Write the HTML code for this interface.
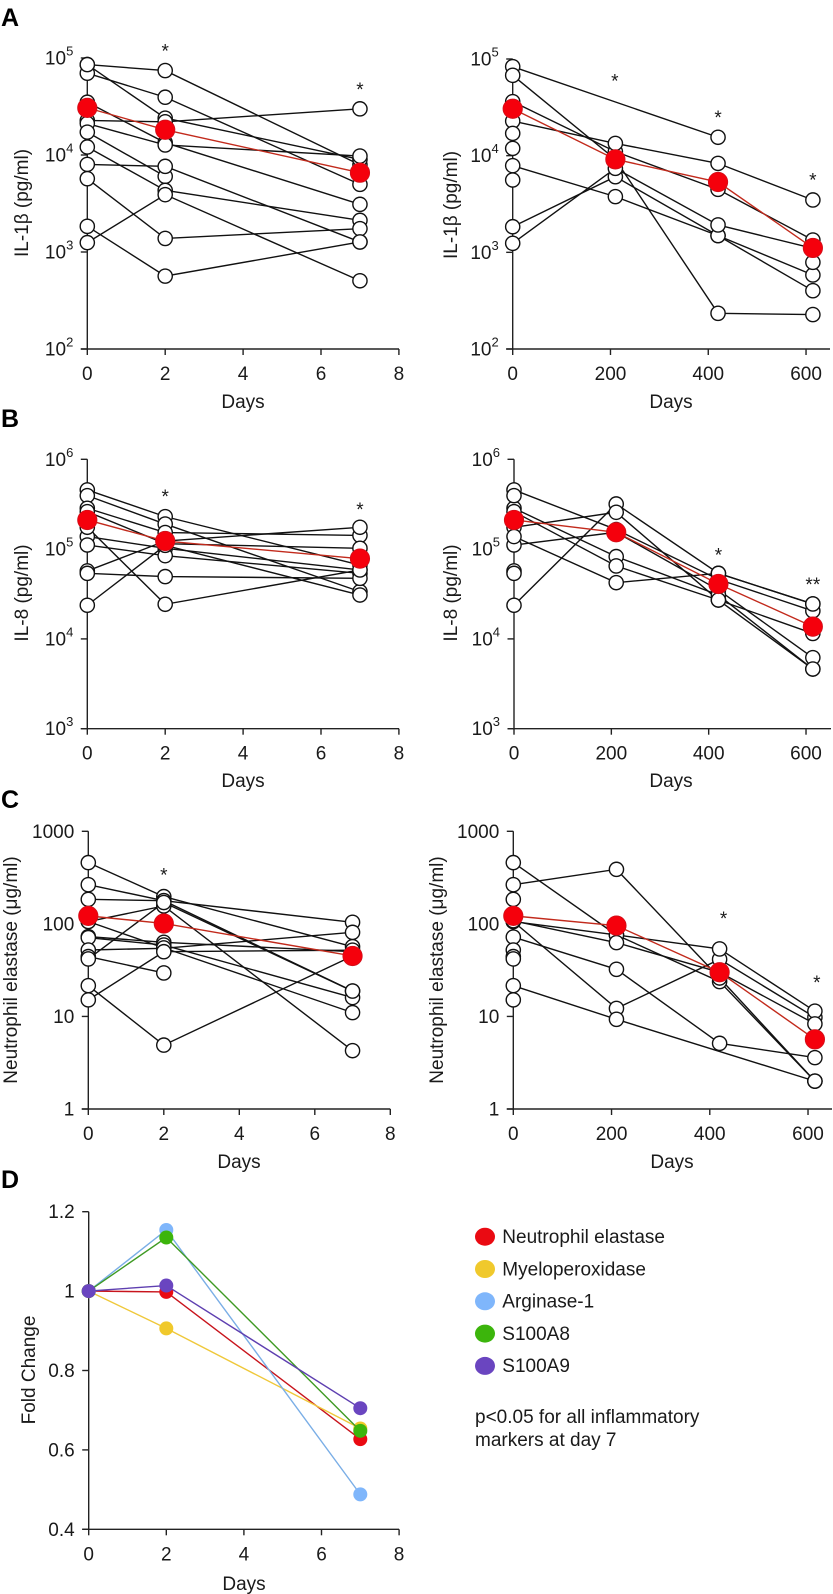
<!DOCTYPE html>
<html lang="en">
<head>
<meta charset="utf-8">
<title>Inflammatory markers over time</title>
<style>
html,body{margin:0;padding:0;background:#fff;width:833px;height:1594px;overflow:hidden}
svg{display:block}
text{font-family:"Liberation Sans",Arial,sans-serif;fill:#1a1a1a;font-size:19px}
.letter{font-weight:bold;font-size:25px;fill:#000}
</style>
</head>
<body>
<svg id="figure" width="833" height="1594" viewBox="0 0 833 1594" xmlns="http://www.w3.org/2000/svg">
<rect width="833" height="1594" fill="#fff"/>
<text class="letter" x="1" y="26">A</text>
<text class="letter" x="1" y="427">B</text>
<text class="letter" x="1" y="808">C</text>
<text class="letter" x="1" y="1188">D</text>

<text transform="translate(28,203) rotate(-90)" text-anchor="middle">IL-1β (pg/ml)</text>
<text transform="translate(457,205) rotate(-90)" text-anchor="middle">IL-1β (pg/ml)</text>
<text transform="translate(28,593) rotate(-90)" text-anchor="middle">IL-8 (pg/ml)</text>
<text transform="translate(457,593) rotate(-90)" text-anchor="middle">IL-8 (pg/ml)</text>
<text transform="translate(17,970) rotate(-90)" text-anchor="middle">Neutrophil elastase (μg/ml)</text>
<text transform="translate(443,970) rotate(-90)" text-anchor="middle">Neutrophil elastase (μg/ml)</text>
<text transform="translate(35,1370) rotate(-90)" text-anchor="middle">Fold Change</text>

<text x="243" y="408" text-anchor="middle">Days</text>
<text x="671" y="408" text-anchor="middle">Days</text>
<text x="243" y="787" text-anchor="middle">Days</text>
<text x="671" y="787" text-anchor="middle">Days</text>
<text x="239" y="1168" text-anchor="middle">Days</text>
<text x="672" y="1168" text-anchor="middle">Days</text>
<text x="244" y="1590" text-anchor="middle">Days</text>

<text x="475" y="1423">p&lt;0.05 for all inflammatory</text>
<text x="475" y="1446">markers at day 7</text>
</svg>
<script>
const earlyDays = [0, 2, 7];
const earlyTicks = [0, 2, 4, 6, 8];
const lateDays = [0, 210, 420, 614];
const lateTicks = [0, 200, 400, 600];

const il1bTicks = [100, 1000, 10000, 100000];
const il1bExponents = ["2", "3", "4", "5"];
const il8Ticks = [1000, 10000, 100000, 1000000];
const il8Exponents = ["3", "4", "5", "6"];
const elastaseTicks = [1, 10, 100, 1000];
const elastaseTickLabels = ["1", "10", "100", "1000"];

const aLeftSubjects = [
  [85500, 74200, 7900],
  [69700, 39400, 4980],
  [85500, 24000, 9000],
  [22700, 22000, 29900],
  [35000, 13400, 3100],
  [21100, 12700, 9750],
  [17200, 6020, null],
  [12100, 4320, 2120],
  [8000, 7640, 1270],
  [5700, 1380, 1740],
  [1840, 564, 1270],
  [1250, 3900, 505]
];
const aLeftMean = [30600, 18200, 6570];
const aLeftStarDays = [2, 7];
const aLeftStarValues = [128000, 51200];
const aLeftStarLabels = ["*", "*"];

const aRightSubjects = [
  [83300, null, 15500, null],
  [67800, 9160, 234, 227],
  [36200, 11000, 4480, 1340],
  [22800, 13400, 8320, 3480],
  [7880, 3770, 1490, 401],
  [1840, 6060, 1490, 583],
  [1240, 7390, 1920, 1100],
  [null, null, null, 788],
  [17000, null, null, null],
  [11900, null, null, null],
  [5600, null, null, null]
];
const aRightMean = [30600, 9160, 5340, 1110];
const aRightStarDays = [209, 420, 614];
const aRightStarValues = [64000, 27000, 6060];
const aRightStarLabels = ["*", "*", "*"];

const bLeftSubjects = [
  [456000, 230000, 66500],
  [394000, 190000, 33600],
  [285000, 153000, 142000],
  [261000, 115000, 102000],
  [138000, 102000, 58600],
  [111000, 84500, 53800],
  [57100, 123000, 175000],
  [53700, 49400, 47300],
  [175000, 24300, 58600],
  [23700, 110000, 30800]
];
const bLeftMean = [211000, 123000, 78300];
const bLeftStarDays = [2, 7];
const bLeftStarValues = [419000, 303000];
const bLeftStarLabels = ["*", "*"];

const bRightSubjects = [
  [23700, 318000, 53700, 24500],
  [175000, 257000, 27100, 4620],
  [456000, 165000, 46000, 20500],
  [111000, 154000, 35100, 6180],
  [285000, 82500, 30800, 4620],
  [261000, 64900, 27100, 11500],
  [138000, 42300, 53700, 24500],
  [394000, null, null, null],
  [57100, null, null, null],
  [53700, null, null, null]
];
const bRightMean = [211000, 154000, 40900, 13700];
const bRightStarDays = [420, 614];
const bRightStarValues = [93700, 44200];
const bRightStarLabels = ["*", "**"];

const cLeftSubjects = [
  [459, 197, 56.7],
  [265, 178, 18.8],
  [184, 178, 104],
  [106, 156, 4.27],
  [72.8, 63.2, 50],
  [71, 59, 16],
  [52.2, 54.5, 81],
  [44.3, 29.5, null],
  [41.8, 170, 18.8],
  [106, 55, 11],
  [21.5, 4.9, 45],
  [15.1, 50, 52]
];
const cLeftMean = [122, 101, 45];
const cLeftStarDays = [2];
const cLeftStarValues = [366];
const cLeftStarLabels = ["*"];

const cRightSubjects = [
  [459, 75.9, 23.8, 2.0],
  [265, 388, 26, 2.0],
  [106, 12.2, 41.4, 9.78],
  [106, 75.9, 53.6, 11.4],
  [108, 62.7, 30, 8.3],
  [72, 32.3, 5.12, 3.59],
  [21.5, 9.31, null, 2.0],
  [184, null, null, null],
  [52.2, null, null, null],
  [44.3, null, null, null],
  [41.8, null, null, null],
  [15.1, null, null, null]
];
const cRightMean = [122, 95.7, 30, 5.66];
const cRightStarDays = [428, 618];
const cRightStarValues = [125, 25.4];
const cRightStarLabels = ["*", "*"];

const foldTicks = [0.4, 0.6, 0.8, 1, 1.2];
const foldTickLabels = ["0.4", "0.6", "0.8", "1", "1.2"];
const neutrophilElastase = [1, 0.998, 0.627];
const myeloperoxidase = [1, 0.906, 0.654];
const arginase1 = [1, 1.154, 0.488];
const s100a8 = [1, 1.135, 0.648];
const s100a9 = [1, 1.014, 0.705];
const markerNames = ["Neutrophil elastase", "Myeloperoxidase", "Arginase-1", "S100A8", "S100A9"];

const svg = document.getElementById('figure');
const NS = 'http://www.w3.org/2000/svg';

function make(tag, attrs, parent) {
  const el = document.createElementNS(NS, tag);
  for (const k in attrs) el.setAttribute(k, attrs[k]);
  (parent || svg).appendChild(el);
  return el;
}

function drawAxes(g, p, xScale, yScale) {
  const axisColor = '#222';
  const yAxis = make('line', {x1: p.x0, x2: p.x0, y1: p.yBottom, y2: p.yTop, stroke: axisColor, 'stroke-width': 1.4}, g);
  
  
  const xAxis = make('line', {x1: p.x0 - 6.5, x2: p.xEnd, y1: p.yBottom, y2: p.yBottom, stroke: axisColor, 'stroke-width': 1.4}, g);
  
  
  p.xTicks.forEach(function (t) {
    const x = xScale(t);
    const tick = make('line', {x1: x, x2: x, y1: p.yBottom, y2: p.yBottom + 6, stroke: axisColor, 'stroke-width': 1.4}, g);
    
    
    const label = make('text', {x: x, y: p.yBottom + 31, 'text-anchor': 'middle'}, g);
    
    
    label.textContent = String(t);
  });
  p.yTicks.forEach(function (t, i) {
    const y = yScale(t);
    const tick = make('line', {x1: p.x0 - 6.5, x2: p.x0, y1: y, y2: y, stroke: axisColor, 'stroke-width': 1.4}, g);
    
    
    const label = make('text', {x: p.x0 - 14, y: y + 6.5, 'text-anchor': 'end'}, g);
    
    
    if (p.exponents) {
      label.appendChild(document.createTextNode('10'));
      const sup = make('tspan', {dy: -9, 'font-size': 13}, label);
      sup.textContent = p.exponents[i];
    } else {
      label.textContent = p.tickLabels[i];
    }
  });
}

function pathPoints(xs, vals, xScale, yScale) {
  const pts = [];
  vals.forEach(function (v, i) {
    if (v !== null) pts.push([xScale(xs[i]), yScale(v)]);
  });
  return pts;
}

function drawSubjectPanel(p) {
  const g = make('g', {});
  
  
  const logMin = Math.log10(p.yTicks[0]);
  const logMax = Math.log10(p.yTicks[p.yTicks.length - 1]);
  const xScale = function (d) { return p.x0 + d * p.xPerUnit; };
  const yScale = function (v) {
    return p.yBottom - (Math.log10(v) - logMin) * (p.yBottom - p.yTop) / (logMax - logMin);
  };
  drawAxes(g, p, xScale, yScale);

  p.subjects.forEach(function (vals) {
    const pts = pathPoints(p.days, vals, xScale, yScale);
    if (pts.length > 1) {
      const line = make('polyline', {points: pts.map(String).join(' '), fill: 'none', stroke: '#111', 'stroke-width': 1.4}, g);
      
      
    }
  });
  p.subjects.forEach(function (vals) {
    pathPoints(p.days, vals, xScale, yScale).forEach(function (pt) {
      const c = make('circle', {cx: pt[0], cy: pt[1], r: 7.1, fill: '#fff', stroke: '#111', 'stroke-width': 1.4}, g);
      
      
    });
  });
  const meanPts = pathPoints(p.days, p.mean, xScale, yScale);
  const meanLine = make('polyline', {points: meanPts.map(String).join(' '), fill: 'none', stroke: '#c22a1c', 'stroke-width': 1.4}, g);
  
  
  meanPts.forEach(function (pt) {
    const c = make('circle', {cx: pt[0], cy: pt[1], r: 9.7, fill: '#f5000c', stroke: '#d0101a', 'stroke-width': 0.8}, g);
    
    
  });
  p.starDays.forEach(function (d, i) {
    const star = make('text', {x: xScale(d), y: yScale(p.starValues[i]) + 10, 'text-anchor': 'middle', 'font-size': 22}, g);
    
    
    star.textContent = p.starLabels[i];
  });
}

drawSubjectPanel({name: 'chart-a-left', x0: 87.3, xPerUnit: 38.95, xEnd: 399, yBottom: 349, yTop: 58, days: earlyDays, xTicks: earlyTicks, yTicks: il1bTicks, exponents: il1bExponents, subjects: aLeftSubjects, mean: aLeftMean, starDays: aLeftStarDays, starValues: aLeftStarValues, starLabels: aLeftStarLabels});
drawSubjectPanel({name: 'chart-a-right', x0: 512.7, xPerUnit: 0.4889, xEnd: 830, yBottom: 349, yTop: 59, days: lateDays, xTicks: lateTicks, yTicks: il1bTicks, exponents: il1bExponents, subjects: aRightSubjects, mean: aRightMean, starDays: aRightStarDays, starValues: aRightStarValues, starLabels: aRightStarLabels});
drawSubjectPanel({name: 'chart-b-left', x0: 87.3, xPerUnit: 38.95, xEnd: 399, yBottom: 728.7, yTop: 459.3, days: earlyDays, xTicks: earlyTicks, yTicks: il8Ticks, exponents: il8Exponents, subjects: bLeftSubjects, mean: bLeftMean, starDays: bLeftStarDays, starValues: bLeftStarValues, starLabels: bLeftStarLabels});
drawSubjectPanel({name: 'chart-b-right', x0: 514, xPerUnit: 0.4867, xEnd: 831, yBottom: 728.7, yTop: 459.3, days: lateDays, xTicks: lateTicks, yTicks: il8Ticks, exponents: il8Exponents, subjects: bRightSubjects, mean: bRightMean, starDays: bRightStarDays, starValues: bRightStarValues, starLabels: bRightStarLabels});
drawSubjectPanel({name: 'chart-c-left', x0: 88.3, xPerUnit: 37.75, xEnd: 390.3, yBottom: 1109, yTop: 831.3, days: earlyDays, xTicks: earlyTicks, yTicks: elastaseTicks, tickLabels: elastaseTickLabels, subjects: cLeftSubjects, mean: cLeftMean, starDays: cLeftStarDays, starValues: cLeftStarValues, starLabels: cLeftStarLabels});
drawSubjectPanel({name: 'chart-c-right', x0: 513.3, xPerUnit: 0.4912, xEnd: 832, yBottom: 1109, yTop: 831.3, days: lateDays, xTicks: lateTicks, yTicks: elastaseTicks, tickLabels: elastaseTickLabels, subjects: cRightSubjects, mean: cRightMean, starDays: cRightStarDays, starValues: cRightStarValues, starLabels: cRightStarLabels});

(function drawFoldChange() {
  const p = {x0: 88.7, xPerUnit: 38.8, xEnd: 399, yBottom: 1529.3, yTop: 1211.7, xTicks: earlyTicks, yTicks: foldTicks, tickLabels: foldTickLabels};
  const g = make('g', {});
  
  
  const xScale = function (d) { return p.x0 + d * p.xPerUnit; };
  const yScale = function (v) { return p.yBottom - (v - 0.4) * (p.yBottom - p.yTop) / 0.8; };
  drawAxes(g, p, xScale, yScale);
  const series = [neutrophilElastase, myeloperoxidase, arginase1, s100a8, s100a9];
  const fills = ['#ea0a12', '#f0c92c', '#7fb6fb', '#3cb50c', '#6a45c0'];
  const strokes = ['#c8141c', '#efc83a', '#7aaee6', '#3f9a24', '#5e3fb0'];
  series.forEach(function (vals, s) {
    const pts = pathPoints(earlyDays, vals, xScale, yScale);
    const line = make('polyline', {points: pts.map(String).join(' '), fill: 'none', stroke: strokes[s], 'stroke-width': 1.4}, g);
    
    
    pts.forEach(function (pt) {
      const c = make('circle', {cx: pt[0], cy: pt[1], r: 7, fill: fills[s]}, g);
      
      
    });
  });
  const legend = make('g', {});
  
  
  markerNames.forEach(function (name, i) {
    const dot = make('ellipse', {cx: 485, cy: 1236.7 + i * 32.3, rx: 10, ry: 9, fill: fills[i]}, legend);
    
    
    const label = make('text', {x: 502.3, y: 1243 + i * 32.3}, legend);
    
    
    label.textContent = name;
  });
})();
</script>
</body>
</html>
